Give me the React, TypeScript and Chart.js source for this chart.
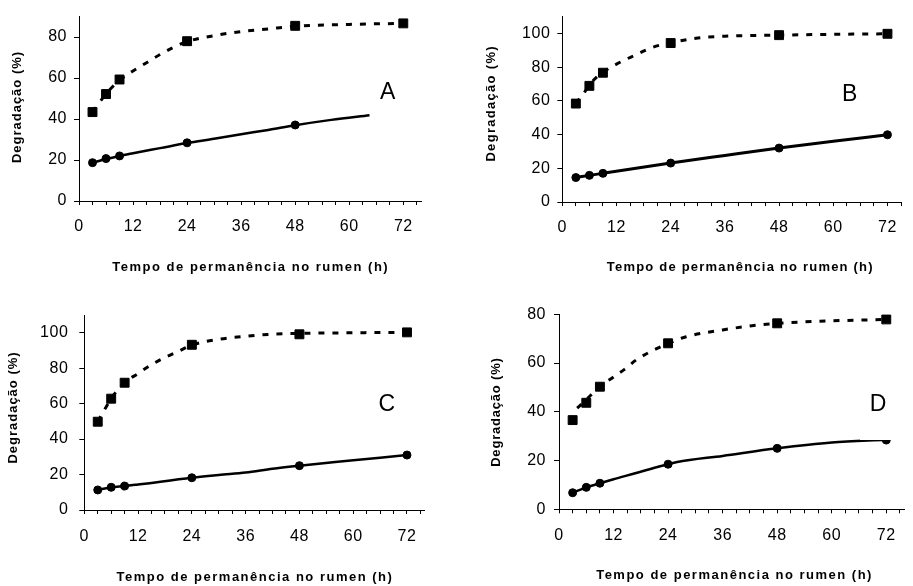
import React, { useEffect, useRef } from 'react';
import { Chart, registerables } from 'chart.js';

Chart.register(...registerables);

// ---------------- Data ----------------
const HOURS = [3, 6, 9, 24, 48, 72];
const X_TICK_LABELS = [0, 12, 24, 36, 48, 60, 72];
const Y_TICKS_80 = [0, 20, 40, 60, 80];
const Y_TICKS_100 = [0, 20, 40, 60, 80, 100];

const X_TITLE = 'Tempo de permanência no rumen (h)';
const Y_TITLE = 'Degradação (%)';

// Panel A
const A_SQUARES = [43.4, 52.2, 59.3, 78.0, 85.5, 86.7];
const A_CIRCLES = [18.7, 20.7, 22.0, 28.4, 37.1, null];
const A_DASH_H = [3, 6, 9, 12, 15, 18, 21, 24, 30, 36, 42, 48, 60, 72];
const A_DASH_V = [43.4, 52.2, 59.0, 63.5, 67.5, 71.5, 75.0, 77.8, 80.7, 82.7, 84.0, 85.3, 86.2, 86.7];
const A_SOLID_H = [3, 6, 9, 12, 18, 24, 30, 36, 42, 48, 56, 64.5];
const A_SOLID_V = [18.7, 20.5, 22.0, 23.3, 25.8, 28.3, 30.4, 32.6, 34.7, 37.0, 39.6, 41.9];

// Panel B
const B_SQUARES = [58.4, 68.9, 76.7, 94.3, 99.0, 99.8];
const B_CIRCLES = [14.5, 15.8, 17.0, 23.1, 32.0, 39.9];
const B_DASH_H = [3, 5, 7, 9, 12, 16, 20, 24, 30, 36, 42, 48, 60, 72];
const B_DASH_V = [58.4, 65.5, 72.5, 77.0, 81.8, 87.0, 91.8, 94.5, 97.3, 98.4, 98.8, 99.0, 99.5, 99.8];
const B_SOLID_H = [3, 6, 9, 24, 36, 48, 60, 72];
const B_SOLID_V = [14.5, 15.8, 17.0, 23.1, 27.6, 32.0, 36.0, 39.9];

// Panel C
const C_SQUARES = [49.8, 62.8, 71.8, 93.2, 99.1, 100.2];
const C_CIRCLES = [11.3, 12.8, 13.5, 18.2, 25.0, 31.0];
const C_DASH_H = [3, 4.6, 6, 7.2, 9, 12, 15, 18, 21, 24, 30, 36, 42, 48, 60, 72];
const C_DASH_V = [50.0, 57.0, 62.8, 67.0, 71.8, 77.0, 82.0, 86.0, 89.5, 93.0, 96.3, 98.0, 99.2, 99.6, 100.0, 100.2];
const C_SOLID_H = [3, 6, 9, 12, 24, 30, 36, 42, 48, 60, 72];
const C_SOLID_V = [11.3, 12.8, 13.5, 14.4, 18.2, 19.8, 21.1, 23.3, 25.0, 28.0, 31.0];

// Panel D
const D_SQUARES = [36.6, 43.7, 50.3, 68.1, 76.3, 77.9];
const D_CIRCLES = [6.8, 9.0, 10.7, 18.5, 25.0, 28.4];
const D_DASH_H = [4, 6, 9, 12, 14.4, 17, 21, 24, 28, 36, 42, 48, 60, 72];
const D_DASH_V = [41.5, 45.0, 50.3, 54.3, 57.4, 61.3, 65.5, 68.0, 70.8, 73.6, 75.2, 76.3, 77.3, 77.9];
const D_SOLID_H = [3, 6, 9, 12, 24, 26, 36, 48, 60, 72];
const D_SOLID_V = [6.8, 9.0, 10.7, 12.3, 18.5, 19.4, 21.9, 25.0, 27.4, 28.5];

// ---------------- Layout / style ----------------
const FONT = '"Liberation Sans", Arial, Helvetica, sans-serif';

type Panel = {
  letter: string;
  left: number; top: number; w: number; h: number;
  plot: { left: number; top: number; right: number; bottom: number };
  xMax: number; yMax: number; yTicks: number[];
  squares: (number | null)[]; circles: (number | null)[];
  dashH: number[]; dashV: number[]; solidH: number[]; solidV: number[];
  solidWidth: number;
  xTickPad: number; yTickPad: number;
  yTitlePos: [number, number]; xTitlePos: [number, number];
  yTitleSpacing: number; xTitleSpacing: number;
  letterPos: [number, number];
  box?: [number, number, number, number];
};

const PANELS: Panel[] = [
  {
    letter: 'A', left: 0, top: 0, w: 456, h: 290,
    plot: { left: 79, top: 8, right: 421.3, bottom: 201 },
    xMax: 76, yMax: 90, yTicks: Y_TICKS_80,
    squares: A_SQUARES, circles: A_CIRCLES,
    dashH: A_DASH_H, dashV: A_DASH_V, solidH: A_SOLID_H, solidV: A_SOLID_V,
    solidWidth: 2.5, xTickPad: 12, yTickPad: 7,
    yTitlePos: [17, 107.5], xTitlePos: [250, 267],
    yTitleSpacing: 1, xTitleSpacing: 1.5,
    letterPos: [387.7, 91.7],
  },
  {
    letter: 'B', left: 456, top: 0, w: 457, h: 290,
    plot: { left: 106.3, top: 10, right: 454.2, bottom: 202 },
    xMax: 75, yMax: 110, yTicks: Y_TICKS_100,
    squares: B_SQUARES, circles: B_CIRCLES,
    dashH: B_DASH_H, dashV: B_DASH_V, solidH: B_SOLID_H, solidV: B_SOLID_V,
    solidWidth: 3, xTickPad: 12, yTickPad: 7,
    yTitlePos: [35.3, 104], xTitlePos: [283.7, 267],
    yTitleSpacing: 1.3, xTitleSpacing: 1.2,
    letterPos: [393.7, 93.3],
  },
  {
    letter: 'C', left: 0, top: 290, w: 456, h: 296,
    plot: { left: 84.3, top: 25, right: 424.9, bottom: 220 },
    xMax: 76, yMax: 110, yTicks: Y_TICKS_100,
    squares: C_SQUARES, circles: C_CIRCLES,
    dashH: C_DASH_H, dashV: C_DASH_V, solidH: C_SOLID_H, solidV: C_SOLID_V,
    solidWidth: 2.5, xTickPad: 13, yTickPad: 11,
    yTitlePos: [13.3, 118], xTitlePos: [254.2, 287.5],
    yTitleSpacing: 1, xTitleSpacing: 1.5,
    letterPos: [386.7, 113.3],
  },
  {
    letter: 'D', left: 456, top: 290, w: 457, h: 296,
    plot: { left: 103, top: 24.3, right: 450.2, bottom: 219.3 },
    xMax: 76, yMax: 80, yTicks: Y_TICKS_80,
    squares: D_SQUARES, circles: D_CIRCLES,
    dashH: D_DASH_H, dashV: D_DASH_V, solidH: D_SOLID_H, solidV: D_SOLID_V,
    solidWidth: 2.5, xTickPad: 13, yTickPad: 8,
    yTitlePos: [40.3, 122.5], xTitlePos: [277.8, 285.8],
    yTitleSpacing: 0.8, xTitleSpacing: 1.5,
    letterPos: [422, 113.3],
    box: [404, 88, 446, 150],
  },
];

function pts(h: number[], v: (number | null)[]) {
  return h.map((x, i) => ({ x, y: v[i] }));
}

function makePlugin(p: Panel) {
  return {
    id: 'panelDecor' + p.letter,
    beforeLayout(chart: any) {
      chart.ctx.letterSpacing = '0.5px';
    },
    beforeDraw(chart: any) {
      chart.ctx.letterSpacing = '0.5px';
    },
    afterDatasetsDraw(chart: any) {
      const ctx = chart.ctx;
      ctx.save();
      if (p.box) {
        const [x0, y0, x1, y1] = p.box;
        ctx.fillStyle = '#ffffff';
        ctx.fillRect(x0, y0, x1 - x0, y1 - y0);
      }
      ctx.letterSpacing = '0px';
      ctx.font = `23px ${FONT}`;
      ctx.fillStyle = '#000';
      ctx.textAlign = 'center';
      ctx.textBaseline = 'middle';
      ctx.fillText(p.letter, p.letterPos[0], p.letterPos[1] + 1);
      ctx.restore();
    },
    afterDraw(chart: any) {
      const ctx = chart.ctx;
      ctx.save();
      ctx.fillStyle = '#000';
      ctx.textAlign = 'center';
      ctx.textBaseline = 'middle';
      ctx.font = `bold 13px ${FONT}`;
      ctx.letterSpacing = p.xTitleSpacing + 'px';
      ctx.fillText(X_TITLE, p.xTitlePos[0] + p.xTitleSpacing / 2, p.xTitlePos[1]);
      ctx.letterSpacing = p.yTitleSpacing + 'px';
      ctx.translate(p.yTitlePos[0], p.yTitlePos[1]);
      ctx.rotate(-Math.PI / 2);
      ctx.fillText(Y_TITLE, p.yTitleSpacing / 2, 0);
      ctx.restore();
      ctx.letterSpacing = '0px';
    },
  };
}

function config(p: Panel): any {
  const tickFont = { family: FONT, size: 16, lineHeight: 1.2 };
  return {
    type: 'line',
    data: {
      datasets: [
        {
          data: pts(HOURS, p.squares),
          showLine: false,
          pointStyle: 'rect',
          pointRadius: 6.3,
          pointBackgroundColor: '#000',
          pointBorderColor: '#000',
          pointBorderWidth: 1,
        },
        {
          data: pts(HOURS, p.circles),
          showLine: false,
          pointStyle: 'circle',
          pointRadius: 4,
          pointBackgroundColor: '#000',
          pointBorderColor: '#000',
          pointBorderWidth: 1,
        },
        {
          data: pts(p.dashH, p.dashV),
          borderColor: '#000',
          borderWidth: 3,
          borderDash: [6, 8],
          borderCapStyle: 'butt',
          pointRadius: 0,
          fill: false,
          tension: 0.4,
          cubicInterpolationMode: 'monotone',
        },
        {
          data: pts(p.solidH, p.solidV),
          borderColor: '#000',
          borderWidth: p.solidWidth,
          pointRadius: 0,
          fill: false,
          tension: 0.4,
          cubicInterpolationMode: 'monotone',
        },
      ],
    },
    options: {
      animation: false,
      responsive: false,
      maintainAspectRatio: false,
      devicePixelRatio: 1,
      events: [],
      layout: {
        padding: { left: 0, top: p.plot.top, right: p.w - p.plot.right, bottom: 0 },
      },
      plugins: { legend: { display: false }, tooltip: { enabled: false }, title: { display: false } },
      scales: {
        x: {
          type: 'linear',
          min: 0,
          max: p.xMax,
          afterFit: (s: any) => { s.height = p.h - p.plot.bottom; },
          border: { display: true, color: '#000', width: 1 },
          grid: { drawOnChartArea: false, drawTicks: true, tickLength: 4, color: '#000', lineWidth: 1 },
          ticks: {
            stepSize: 3,
            autoSkip: false,
            includeBounds: false,
            maxRotation: 0,
            minRotation: 0,
            padding: p.xTickPad,
            color: '#000',
            font: tickFont,
            callback: (v: number) => (X_TICK_LABELS.includes(v) ? String(v) : ''),
          },
        },
        y: {
          type: 'linear',
          min: 0,
          max: p.yMax,
          afterFit: (s: any) => { s.width = p.plot.left; },
          border: { display: true, color: '#000', width: 1 },
          grid: { drawOnChartArea: false, drawTicks: true, tickLength: 5, color: '#000', lineWidth: 1 },
          ticks: {
            stepSize: 20,
            includeBounds: false,
            autoSkip: false,
            padding: p.yTickPad,
            color: '#000',
            font: tickFont,
            callback: (v: number) => (p.yTicks.includes(v) ? String(v) : ''),
          },
        },
      },
    },
    plugins: [makePlugin(p)],
  };
}

function PanelChart({ p }: { p: Panel }) {
  const ref = useRef<HTMLCanvasElement | null>(null);
  useEffect(() => {
    if (!ref.current) return;
    const chart = new Chart(ref.current, config(p));
    return () => chart.destroy();
  }, [p]);
  return (
    <canvas
      ref={ref}
      width={p.w}
      height={p.h}
      style={{ position: 'absolute', left: p.left, top: p.top, width: p.w, height: p.h }}
    />
  );
}

export default function App() {
  return (
    <div style={{ position: 'absolute', left: 0, top: 0, width: 913, height: 586, background: '#fff', overflow: 'hidden' }}>
      {PANELS.map((p) => (
        <PanelChart key={p.letter} p={p} />
      ))}
    </div>
  );
}
